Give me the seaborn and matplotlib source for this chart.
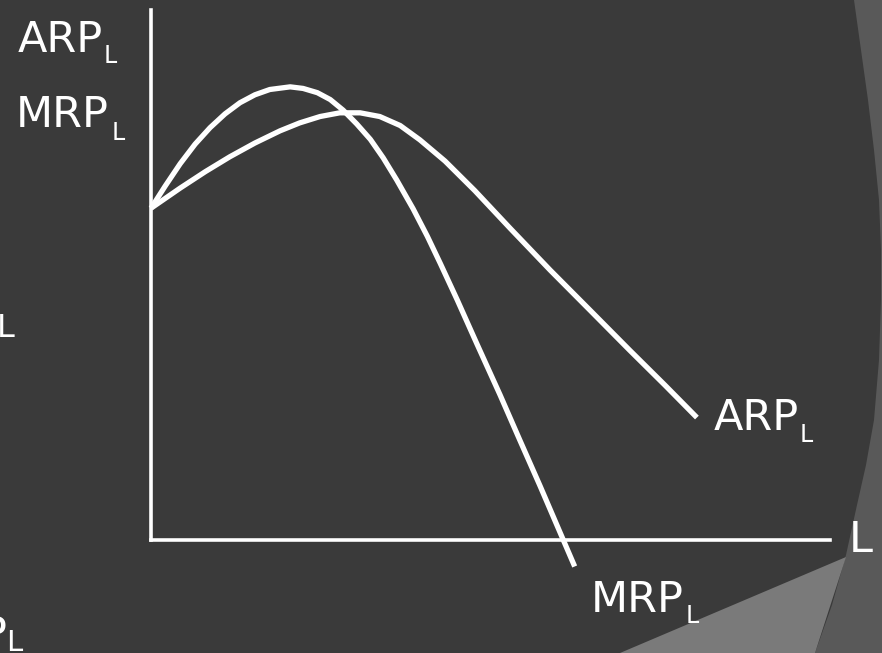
import matplotlib
matplotlib.use("Agg")
import matplotlib.pyplot as plt
from matplotlib.patches import Polygon
import seaborn as sns

# Labour input and revenue product curves
labour_mrp = [0.0, 0.21, 0.43, 0.65, 0.87, 1.09, 1.31, 1.53, 1.75, 2.05, 2.24, 2.45,
              2.64, 2.83, 3.03, 3.23, 3.42, 3.62, 3.86, 4.07, 4.26, 4.51, 4.80,
              5.14, 5.43, 5.73, 6.24]
mrp_values = [6.26, 6.68, 7.10, 7.47, 7.78, 8.04, 8.25, 8.40, 8.50, 8.55, 8.52, 8.44,
              8.31, 8.11, 7.85, 7.56, 7.21, 6.79, 6.25, 5.73, 5.22, 4.53, 3.70,
              2.74, 1.89, 1.02, -0.50]

labour_arp = [0.0, 0.43, 0.80, 1.16, 1.53, 1.90, 2.19, 2.49, 2.78, 3.08, 3.37, 3.67,
              3.96, 4.33, 4.77, 5.29, 5.88, 6.47, 7.05, 7.57, 8.04]
arp_values = [6.26, 6.64, 6.95, 7.23, 7.49, 7.72, 7.87, 7.99, 8.06, 8.06, 7.99, 7.82,
              7.55, 7.15, 6.59, 5.88, 5.09, 4.33, 3.58, 2.92, 2.31]

axis_max = 10

BG = "#3a3a3a"
W, H = 882, 653

sns.set_theme(style="white")
plt.rcParams["font.family"] = ["DejaVu Sans"]

fig = plt.figure(figsize=(W / 100, H / 100), dpi=100, facecolor=BG)
ax = fig.add_axes([0, 0, 1, 1])
ax.set_facecolor("none")


def px(x, y):
    # pixel position on the slide -> figure fraction
    return x / W, 1 - y / H


# slide decoration in the bottom-right corner
band = [(854, 0), (861, 50), (868, 100), (874, 150), (879, 200), (881, 250),
        (881, 300), (879, 360), (874, 420), (866, 465), (857, 505), (846, 555),
        (832, 605), (815, 653), (882, 653), (882, 0)]
ax.add_patch(Polygon([px(*p) for p in band], closed=True, transform=fig.transFigure,
                     facecolor="#595959", edgecolor="none", zorder=0))
tri = [(846, 557), (620, 653), (815, 653)]
ax.add_patch(Polygon([px(*p) for p in tri], closed=True, transform=fig.transFigure,
                     facecolor="#7a7a7a", edgecolor="none", zorder=0))

# curves
for xs, ys in [(labour_mrp, mrp_values), (labour_arp, arp_values)]:
    sns.lineplot(x=xs, y=ys, ax=ax, color="white", linewidth=3.8, sort=False,
                 solid_capstyle="butt", solid_joinstyle="round")

# axis lines through the origin
ax.set_xlim(-151 / 67.9, (W - 151) / 67.9)
ax.set_ylim((540 - H) / 53, 540 / 53)
for side in ["top", "right"]:
    ax.spines[side].set_visible(False)
for side in ["left", "bottom"]:
    sp = ax.spines[side]
    sp.set_position(("data", 0))
    sp.set_bounds(0, axis_max)
    sp.set_color("white")
    sp.set_linewidth(2.6)
ax.set_xticks([])
ax.set_yticks([])

MAIN, SUB = 31, 17


def label(x, y, main, sub, sx, sy, size=MAIN, subsize=SUB, ha="left"):
    fig.text(*px(x, y), main, color="white", fontsize=size, ha=ha, va="baseline")
    if sub:
        fig.text(*px(sx, sy), sub, color="white", fontsize=subsize, ha="left", va="baseline")


label(18, 52, "ARP", "L", 104, 63)
label(16, 127, "MRP", "L", 112, 140)
label(714, 430, "ARP", "L", 800, 442)
label(591, 612, "MRP", "L", 686, 623)
label(849, 552, "L", None, 0, 0)
# cut-off text at the left edge of the slide
label(15, 337, "L", None, 0, 0, size=23, ha="right")
label(7, 647, "P", "L", 6, 651, subsize=21, ha="right")

fig.savefig("out.png", dpi=100, facecolor=BG)
